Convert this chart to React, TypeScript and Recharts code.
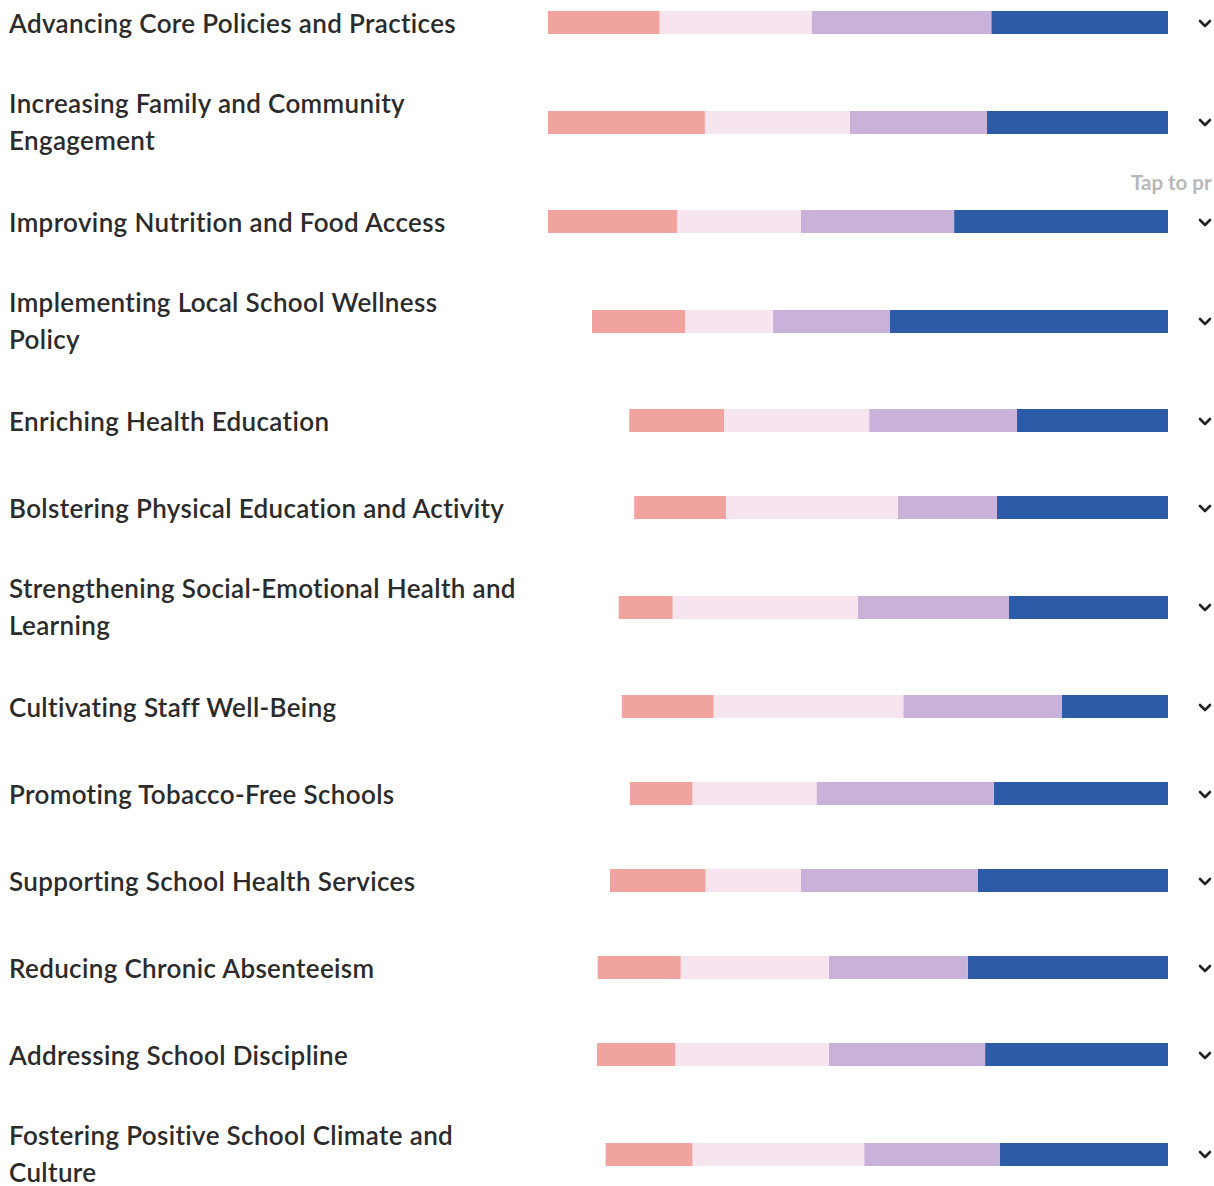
import React from 'react';
import { BarChart, Bar, XAxis, YAxis } from 'recharts';

// topics, top to bottom (\n = where the label wraps)
const topics = [
    'Advancing Core Policies and Practices',
    'Increasing Family and Community\nEngagement',
    'Improving Nutrition and Food Access',
    'Implementing Local School Wellness\nPolicy',
    'Enriching Health Education',
    'Bolstering Physical Education and Activity',
    'Strengthening Social-Emotional Health and\nLearning',
    'Cultivating Staff Well-Being',
    'Promoting Tobacco-Free Schools',
    'Supporting School Health Services',
    'Reducing Chronic Absenteeism',
    'Addressing School Discipline',
    'Fostering Positive School Climate and\nCulture',
];

// share of responses (%) per status
const notInPlace = [18, 25.3, 20.8, 15, 15.3, 14.8, 8.7, 14.8, 10.1, 15.4, 13.4, 12.6, 14];
const underDevelopment = [24.5, 23.4, 20, 14.2, 23.4, 27.7, 29.9, 30.6, 20, 15.4, 23.9, 24.8, 27.7];
const partiallyInPlace = [29, 22.1, 24.7, 18.8, 23.8, 16, 24.3, 25.6, 28.6, 28.5, 22.4, 25.2, 21.9];
const fullyInPlace = [28.5, 29.2, 34.5, 44.9, 24.4, 27.6, 25.7, 17.1, 28.1, 30.7, 32.3, 29.5, 27.1];

const COLORS = {
    notInPlace: '#f1a39f',
    underDevelopment: '#f6e5ee',
    partiallyInPlace: '#c8b2da',
    fullyInPlace: '#2e5ba7',
};

const rows = topics.map((name, i) => ({
    name,
    notInPlace: notInPlace[i],
    underDevelopment: underDevelopment[i],
    partiallyInPlace: partiallyInPlace[i],
    fullyInPlace: fullyInPlace[i],
}));

const SINGLE_ROW = 87;
const DOUBLE_ROW = 112;

const Chevron = () => (
    <svg width={14} height={10} style={{ position: 'absolute', left: 1198, top: '50%', marginTop: -4 }}>
        <polyline points="2,2 7,7 12,2" fill="none" stroke="#222" strokeWidth={2.6} strokeLinecap="round" strokeLinejoin="round" />
    </svg>
);

const TopicRow = ({ row }: { row: (typeof rows)[number] }) => {
    const height = row.name.includes('\n') ? DOUBLE_ROW : SINGLE_ROW;
    return (
        <div style={{ position: 'relative', height }}>
            <div
                style={{
                    position: 'absolute',
                    left: 9,
                    top: '50%',
                    transform: 'translateY(-50%)',
                    whiteSpace: 'pre-line',
                    fontFamily: 'Lato, "Noto Sans", sans-serif',
                    fontWeight: 600,
                    fontSize: 26,
                    letterSpacing: 0.35,
                    lineHeight: '37px',
                    color: '#2b2b2b',
                }}
            >
                {row.name}
            </div>
            <div style={{ position: 'absolute', left: 548, top: 0 }}>
                <BarChart
                    width={620}
                    height={height}
                    data={[row]}
                    layout="vertical"
                    margin={{ top: 0, right: 0, bottom: 0, left: 0 }}
                    barSize={23}
                >
                    <XAxis type="number" domain={[0, 100]} reversed hide />
                    <YAxis type="category" dataKey="name" hide />
                    <Bar dataKey="fullyInPlace" stackId="a" fill={COLORS.fullyInPlace} isAnimationActive={false} />
                    <Bar dataKey="partiallyInPlace" stackId="a" fill={COLORS.partiallyInPlace} isAnimationActive={false} />
                    <Bar dataKey="underDevelopment" stackId="a" fill={COLORS.underDevelopment} isAnimationActive={false} />
                    <Bar dataKey="notInPlace" stackId="a" fill={COLORS.notInPlace} isAnimationActive={false} />
                </BarChart>
            </div>
            <Chevron />
        </div>
    );
};

export default function App() {
    return (
        <div style={{ position: 'absolute', left: 0, top: 0, width: 1214, height: 1186, overflow: 'hidden', background: '#fff' }}>
            <div style={{ position: 'absolute', left: 0, top: -21, width: 1214 }}>
                {rows.map((row) => (
                    <TopicRow key={row.name} row={row} />
                ))}
            </div>
            <div
                style={{
                    position: 'absolute',
                    left: 1131,
                    top: 170,
                    fontFamily: 'Lato, sans-serif',
                    fontWeight: 700,
                    fontSize: 20.5,
                    color: '#b8b8b8',
                    whiteSpace: 'nowrap',
                }}
            >
                Tap to pr
            </div>
        </div>
    );
}
